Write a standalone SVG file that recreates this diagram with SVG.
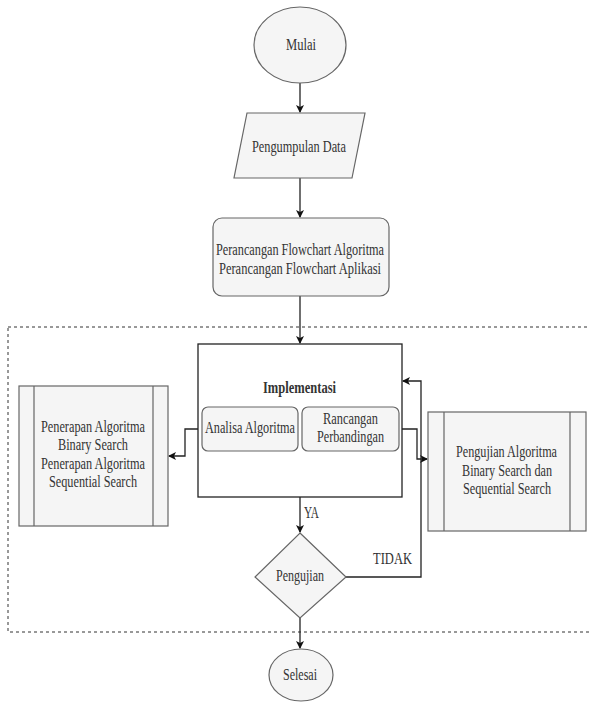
<svg xmlns="http://www.w3.org/2000/svg" width="589" height="702" viewBox="0 0 589 702">
<defs>
<style>
.sh{fill:#f5f5f5;stroke:#666;stroke-width:1.2}
.t{font-family:"Liberation Serif","Times New Roman",serif;font-size:16px;fill:#333;text-anchor:middle}
.c{fill:none;stroke:#222;stroke-width:1.3}
</style>
<marker id="ar" markerWidth="8" markerHeight="8" refX="7" refY="4" orient="auto" markerUnits="userSpaceOnUse"><path d="M0,0 L8,4 L0,8 L2,4 Z" fill="#111"/></marker>
</defs>
<rect width="589" height="702" fill="#fff"/>
<rect x="8" y="327" width="600" height="305" fill="none" stroke="#333" stroke-width="1" stroke-dasharray="3,3"/>
<g id="connectors">
<path class="c" d="M300,83 V112" marker-end="url(#ar)"/>
<path class="c" d="M300,178 V217" marker-end="url(#ar)"/>
<path class="c" d="M300,296 V343" marker-end="url(#ar)"/>
<path class="c" d="M202,429 H185 V456 H169" marker-end="url(#ar)"/>
<path class="c" d="M399,429 H417 V459 H427" marker-end="url(#ar)"/>
<path class="c" d="M300,497 V532" marker-end="url(#ar)"/>
<path class="c" d="M346,577 H421 V381 H403" marker-end="url(#ar)"/>
<path class="c" d="M300,618 V648" marker-end="url(#ar)"/>
<text class="t" x="311.5" y="518" textLength="15" lengthAdjust="spacingAndGlyphs">YA</text>
<text class="t" x="392.5" y="564" textLength="39" lengthAdjust="spacingAndGlyphs">TIDAK</text>
</g>
<g id="mulai"><ellipse class="sh" cx="300" cy="45" rx="46" ry="38"/><text class="t" x="301" y="50" textLength="30" lengthAdjust="spacingAndGlyphs">Mulai</text></g>
<g id="pengumpulan"><polygon class="sh" points="247,113 365,113 352,178 234,178"/><text class="t" x="299" y="152" textLength="94" lengthAdjust="spacingAndGlyphs">Pengumpulan Data</text></g>
<g id="perancangan"><rect class="sh" x="213" y="218" width="176" height="78" rx="9"/><text class="t" x="300" y="255" textLength="168" lengthAdjust="spacingAndGlyphs">Perancangan Flowchart Algoritma</text><text class="t" x="300" y="274" textLength="162" lengthAdjust="spacingAndGlyphs">Perancangan Flowchart Aplikasi</text></g>
<g id="implementasi"><rect x="198" y="344" width="204" height="153" fill="#fff" stroke="#222" stroke-width="1.3"/><text class="t" x="299.5" y="393" font-weight="bold" textLength="73" lengthAdjust="spacingAndGlyphs">Implementasi</text></g>
<g id="analisa"><rect class="sh" x="202" y="407" width="96" height="44" rx="6"/><text class="t" x="250" y="433" textLength="90" lengthAdjust="spacingAndGlyphs">Analisa Algoritma</text></g>
<g id="rancangan"><rect class="sh" x="302" y="407" width="97" height="44" rx="6"/><text class="t" x="350.5" y="424" textLength="55" lengthAdjust="spacingAndGlyphs">Rancangan</text><text class="t" x="350.5" y="442" textLength="67" lengthAdjust="spacingAndGlyphs">Perbandingan</text></g>
<g id="penerapan"><rect class="sh" x="19" y="386" width="149" height="140"/><path d="M34,386 V526 M153,386 V526" stroke="#666" stroke-width="1.2"/><text class="t" x="93" y="432" textLength="104" lengthAdjust="spacingAndGlyphs">Penerapan Algoritma</text><text class="t" x="93" y="450" textLength="70" lengthAdjust="spacingAndGlyphs">Binary Search</text><text class="t" x="93" y="469" textLength="104" lengthAdjust="spacingAndGlyphs">Penerapan Algoritma</text><text class="t" x="93" y="487" textLength="88" lengthAdjust="spacingAndGlyphs">Sequential Search</text></g>
<g id="pengujianAlg"><rect class="sh" x="428" y="412" width="158" height="119"/><path d="M444,412 V531 M570,412 V531" stroke="#666" stroke-width="1.2"/><text class="t" x="506.5" y="457" textLength="101" lengthAdjust="spacingAndGlyphs">Pengujian Algoritma</text><text class="t" x="507" y="476" textLength="90" lengthAdjust="spacingAndGlyphs">Binary Search dan</text><text class="t" x="507" y="494" textLength="88" lengthAdjust="spacingAndGlyphs">Sequential Search</text></g>
<g id="pengujian"><polygon class="sh" points="300,533 346,577 300,618 255,577"/><text class="t" x="300" y="581" textLength="48" lengthAdjust="spacingAndGlyphs">Pengujian</text></g>
<g id="selesai"><ellipse class="sh" cx="301" cy="675" rx="32" ry="26"/><text class="t" x="300" y="680" textLength="34" lengthAdjust="spacingAndGlyphs">Selesai</text></g>
</svg>
